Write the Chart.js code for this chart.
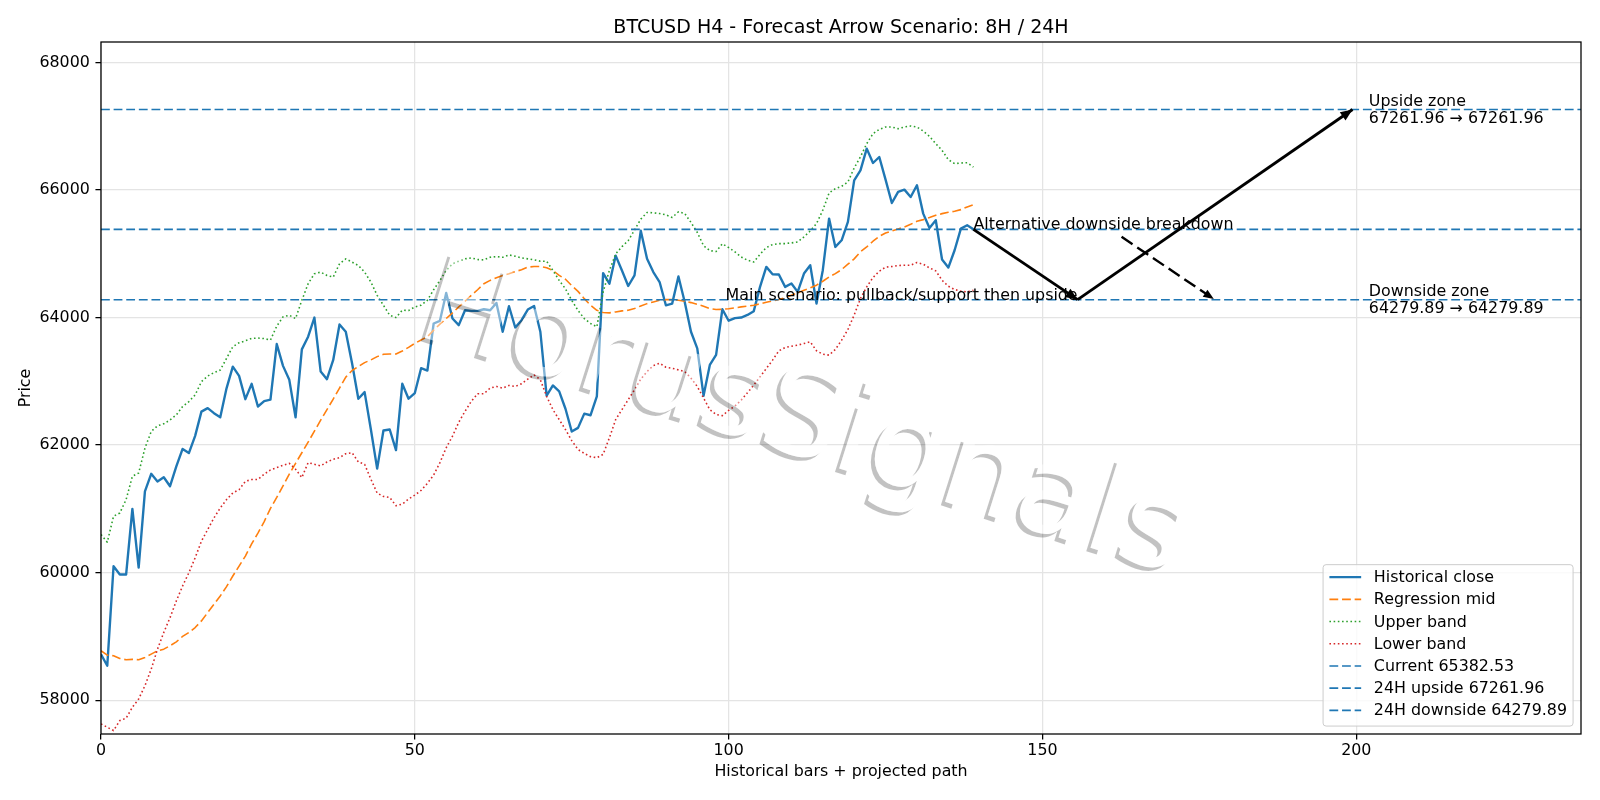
<!DOCTYPE html>
<html lang="en">
<head>
  <meta charset="utf-8">
  <title>BTCUSD H4 - Forecast Arrow Scenario</title>
  <script src="https://cdn.jsdelivr.net/npm/chart.js@4.4.1/dist/chart.umd.min.js"></script>
  <style>
    html, body { margin: 0; padding: 0; background: #fff; }
  </style>
</head>
<body>

<canvas id="mycanvas" width="1600" height="800"></canvas>

<script>
// historical H4 closes and regression channel (bar index = position in array)
const closeVals = [
  58720, 58540, 60100, 59970, 59970, 61000, 60080, 61275, 61550, 61430,
  61495, 61355, 61665, 61940, 61875, 62145, 62525, 62580, 62500, 62435,
  62890, 63230, 63085, 62720, 62960, 62605, 62690, 62712, 63584, 63242,
  63023, 62436, 63501, 63699, 64000, 63153, 63034, 63335, 63891, 63777,
  63283, 62727, 62831, 62244, 61631, 62229, 62244, 61922, 62961, 62727,
  62816, 63205, 63169, 63906, 63948, 64384, 63984, 63881, 64114, 64104,
  64104, 64130, 64114, 64229, 63777, 64177, 63844, 63958, 64125, 64182,
  63777, 62774, 62935, 62842, 62570, 62213, 62270, 62493, 62468, 62764,
  64696, 64530, 64971, 64738, 64494, 64660, 65361, 64920, 64712, 64556,
  64192, 64218, 64644, 64244, 63777, 63517, 62774, 63257, 63413, 64130,
  63950, 63990, 64000, 64040, 64100, 64480, 64794, 64679, 64674, 64480,
  64533, 64402, 64689, 64820, 64219, 64742, 65551, 65107, 65211, 65499,
  66151, 66308, 66648, 66423, 66517, 66162, 65796, 65969, 66005, 65890,
  66073, 65629, 65405, 65525, 64909, 64783, 65055, 65394, 65446, 65382.53
];
const midVals = [
  58775, 58707, 58696, 58655, 58634, 58640, 58634, 58670, 58722, 58775,
  58800, 58853, 58915, 59000, 59061, 59139, 59243, 59374, 59504, 59634,
  59780, 59947, 60103, 60259, 60450, 60620, 60800, 61008, 61179, 61361,
  61543, 61714, 61880, 62047, 62218, 62390, 62556, 62722, 62893, 63065,
  63169, 63231, 63293, 63335, 63387, 63423, 63429, 63429, 63475, 63532,
  63595, 63647, 63699, 63803, 63896, 63984, 64073, 64166, 64255, 64348,
  64436, 64530, 64582, 64623, 64660, 64686, 64722, 64748, 64790, 64800,
  64800, 64779, 64738, 64660, 64600, 64500, 64410, 64296, 64192, 64114,
  64078, 64073, 64088, 64104, 64114, 64140, 64182, 64218, 64244, 64270,
  64280, 64280, 64270, 64255, 64234, 64208, 64177, 64140, 64125, 64128,
  64138, 64151, 64167, 64178, 64193, 64214, 64240, 64261, 64282, 64313,
  64350, 64386, 64428, 64465, 64507, 64569, 64637, 64689, 64752, 64836,
  64920, 65030, 65107, 65196, 65274, 65326, 65358, 65389, 65420, 65462,
  65509, 65535, 65567, 65603, 65629, 65650, 65666, 65692, 65734, 65770
];
const upperVals = [
  60598, 60478, 60884, 60936, 61145, 61510, 61562, 61952, 62213, 62302,
  62333, 62395, 62473, 62604, 62682, 62786, 62994, 63083, 63135, 63177,
  63359, 63542, 63604, 63635, 63672, 63678, 63670, 63647, 63865, 64010,
  64036, 63984, 64270, 64530, 64686, 64712, 64660, 64634, 64842, 64920,
  64868, 64816, 64712, 64556, 64348, 64192, 64036, 64000, 64114, 64110,
  64166, 64192, 64270, 64436, 64582, 64738, 64842, 64883, 64920, 64935,
  64909, 64904, 64945, 64956, 64945, 64982, 64961, 64935, 64920, 64904,
  64883, 64883, 64738, 64582, 64450, 64270, 64110, 63984, 63906, 63854,
  64400, 64738, 64997, 65112, 65205, 65371, 65543, 65647, 65642, 65631,
  65610, 65569, 65657, 65631, 65491, 65335, 65127, 65049, 65034, 65156,
  65097, 65029, 64950, 64898, 64872, 64992, 65097, 65144, 65159, 65159,
  65170, 65185, 65264, 65358, 65473, 65682, 65953, 66021, 66057, 66125,
  66345, 66520, 66726, 66882, 66950, 66987, 66987, 66961, 66987, 67003,
  66987, 66924, 66841, 66726, 66621, 66475, 66413, 66423, 66428, 66360
];
const lowerVals = [
  57628, 57576, 57524, 57680, 57717, 57889, 58019, 58227, 58488, 58800,
  59061, 59295, 59556, 59790, 59999, 60233, 60493, 60676, 60858, 61014,
  61145, 61249, 61301, 61431, 61460, 61460, 61543, 61610, 61647, 61683,
  61714, 61621, 61491, 61725, 61699, 61673, 61735, 61777, 61803, 61865,
  61880, 61735, 61699, 61465, 61247, 61195, 61179, 61049, 61075, 61153,
  61216, 61290, 61400, 61530, 61725, 61958, 62140, 62358, 62530, 62686,
  62805, 62805, 62893, 62919, 62893, 62935, 62919, 62961, 63034, 63101,
  63023, 62764, 62556, 62400, 62244, 62070, 61930, 61870, 61818, 61803,
  61855, 62114, 62400, 62556, 62712, 62867, 63034, 63153, 63247, 63283,
  63221, 63205, 63179, 63153, 63049, 62919, 62738, 62556, 62478, 62462,
  62545, 62611, 62705, 62820, 62940, 63070, 63201, 63332, 63478, 63530,
  63551, 63567, 63593, 63619, 63478, 63426, 63410, 63499, 63645, 63812,
  64040, 64298, 64480, 64627, 64726, 64789, 64799, 64815, 64820, 64820,
  64862, 64836, 64778, 64731, 64585, 64491, 64439, 64413, 64402, 64428
];

// levels
const currentPrice = 65382.53;
const upsideTarget = 67261.96;
const downsideTarget = 64279.89;

// projected path (main: down to support then up, alt: breakdown)
const mainPathX = [139, 155.6, 199.4];
const mainPathY = [currentPrice, downsideTarget, upsideTarget];
const altPathX = [162.6, 177.3];
const altPathY = [65265, 64290];
const zoneLabelX = 202;

// axes
const xRange = [0, 235.8];
const yRange = [57470, 68320];
const xTicks = [0, 50, 100, 150, 200];
const yTicks = [58000, 60000, 62000, 64000, 66000, 68000];

const FONT = "'DejaVu Sans', sans-serif";
const PT = 1600 / 14 / 72;   // px per point
const DASH = [5.55 * PT, 2.4 * PT];
const DOT = [1 * PT, 1.65 * PT];

function pts(arr) {
  return arr.map(function (v, i) { return {x: i, y: v}; });
}
function hline(v) {
  return [{x: xRange[0], y: v}, {x: xRange[1], y: v}];
}
function seg(xs, ys, a, b) {
  return [{x: xs[a], y: ys[a]}, {x: xs[b], y: ys[b]}];
}

const datasets = [
  {label: 'Historical close', data: pts(closeVals), borderColor: '#1f77b4', borderWidth: 1.5 * PT, inLegend: true},
  {label: 'Regression mid', data: pts(midVals), borderColor: '#ff7f0e', borderWidth: 1 * PT, borderDash: DASH, inLegend: true},
  {label: 'Upper band', data: pts(upperVals), borderColor: '#2ca02c', borderWidth: 1 * PT, borderDash: DOT, inLegend: true},
  {label: 'Lower band', data: pts(lowerVals), borderColor: '#d62728', borderWidth: 1 * PT, borderDash: DOT, inLegend: true},
  {label: 'Current ' + currentPrice.toFixed(2), data: hline(currentPrice), borderColor: '#1f77b4', borderWidth: 1 * PT, borderDash: DASH, inLegend: true},
  {label: '24H upside ' + upsideTarget.toFixed(2), data: hline(upsideTarget), borderColor: '#1f77b4', borderWidth: 1 * PT, borderDash: DASH, inLegend: true},
  {label: '24H downside ' + downsideTarget.toFixed(2), data: hline(downsideTarget), borderColor: '#1f77b4', borderWidth: 1 * PT, borderDash: DASH, inLegend: true},
  {label: 'arrow1', data: seg(mainPathX, mainPathY, 0, 1), borderColor: '#000', borderWidth: 1.8 * PT, arrow: true},
  {label: 'arrow2', data: seg(mainPathX, mainPathY, 1, 2), borderColor: '#000', borderWidth: 1.8 * PT, arrow: true},
  {label: 'arrow3', data: seg(altPathX, altPathY, 0, 1), borderColor: '#000', borderWidth: 1.5 * PT, borderDash: [5.55 * 1.5 * PT, 2.4 * 1.5 * PT], arrow: true}
];
datasets.forEach(function (d, i) {
  d.pointRadius = 0;
  d.fill = false;
  d.tension = 0;
  d.borderJoinStyle = 'round';
  d.order = datasets.length - i;   // later ones on top, like matplotlib
});

function arrowHead(ctx, x0, y0, x1, y1, len, half) {
  var a = Math.atan2(y1 - y0, x1 - x0);
  var c = Math.cos(a), s = Math.sin(a);
  ctx.beginPath();
  ctx.moveTo(x1, y1);
  ctx.lineTo(x1 - len * c + half * s, y1 - len * s - half * c);
  ctx.lineTo(x1 - len * c - half * s, y1 - len * s + half * c);
  ctx.closePath();
  ctx.fill();
}

// watermark text set up on a given context
function wmText(c, fill, dx, dy) {
  c.save();
  c.translate(793, 454);
  c.rotate(17.5 * Math.PI / 180);
  c.font = '122px ' + FONT;
  c.textAlign = 'center';
  c.textBaseline = 'alphabetic';
  c.fillStyle = fill;
  c.fillText('HorusSignals', dx, dy);
  c.restore();
}

const extras = {
  id: 'extras',
  afterDatasetsDraw: function (chart) {
    var ctx = chart.ctx, xs = chart.scales.x, ys = chart.scales.y, ca = chart.chartArea;
    var px = function (v) { return xs.getPixelForValue(v); };
    var py = function (v) { return ys.getPixelForValue(v); };

    // watermark: grey drop shadow (only outside the letters) + translucent white letters
    var off = document.createElement('canvas');
    off.width = chart.width;
    off.height = chart.height;
    var oc = off.getContext('2d');
    wmText(oc, 'rgba(0,0,0,0.24)', -3, 4.5);
    oc.globalCompositeOperation = 'destination-out';
    wmText(oc, '#000', 0, 0);
    ctx.drawImage(off, 0, 0);
    wmText(ctx, 'rgba(255,255,255,0.45)', 0, 0);

    // arrow heads
    ctx.save();
    ctx.fillStyle = '#000';
    chart.data.datasets.forEach(function (d) {
      if (!d.arrow) return;
      var p0 = d.data[0], p1 = d.data[1];
      var big = !d.borderDash;
      arrowHead(ctx, px(p0.x), py(p0.y), px(p1.x), py(p1.y), big ? 12 : 10.5, big ? 5 : 4.2);
    });
    ctx.restore();

    // annotation texts
    ctx.save();
    ctx.font = (10 * PT) + 'px ' + FONT;
    ctx.fillStyle = '#000';
    ctx.textBaseline = 'alphabetic';
    ctx.textAlign = 'left';
    ctx.fillText('Alternative downside breakdown', px(mainPathX[0]), py(currentPrice));
    ctx.textAlign = 'right';
    ctx.fillText('Main scenario: pullback/support then upside', px(mainPathX[1]), py(downsideTarget));
    ctx.textAlign = 'left';
    ctx.fillText('Upside zone', px(zoneLabelX), py(upsideTarget) - 3);
    ctx.fillText(upsideTarget.toFixed(2) + ' \u2192 ' + upsideTarget.toFixed(2), px(zoneLabelX), py(upsideTarget) + 14);
    ctx.fillText('Downside zone', px(zoneLabelX), py(downsideTarget) - 3.5);
    ctx.fillText(downsideTarget.toFixed(2) + ' \u2192 ' + downsideTarget.toFixed(2), px(zoneLabelX), py(downsideTarget) + 13.5);
    ctx.restore();

    // frame
    ctx.save();
    ctx.strokeStyle = '#000';
    ctx.lineWidth = 0.8 * PT;
    ctx.strokeRect(ca.left, ca.top, ca.right - ca.left, ca.bottom - ca.top);
    ctx.restore();
  },
  afterDraw: function (chart) {
    var ctx = chart.ctx, ca = chart.chartArea;

    // title
    ctx.save();
    ctx.font = (12 * PT) + 'px ' + FONT;
    ctx.fillStyle = '#000';
    ctx.textAlign = 'center';
    ctx.textBaseline = 'alphabetic';
    ctx.fillText('BTCUSD H4 - Forecast Arrow Scenario: 8H / 24H', (ca.left + ca.right) / 2, ca.top - 9.5);
    ctx.restore();

    // legend, lower right inside the axes
    var items = chart.data.datasets.filter(function (d) { return d.inLegend; });
    var fs = 10 * PT;
    var boxR = ca.right - 0.5 * fs, boxB = ca.bottom - 0.5 * fs;
    var boxL = boxR - 250, rowH = 22.2;
    var boxT = boxB - items.length * rowH - 6;
    ctx.save();
    ctx.beginPath();
    ctx.roundRect(boxL, boxT, boxR - boxL, boxB - boxT, 3);
    ctx.fillStyle = 'rgba(255,255,255,0.8)';
    ctx.fill();
    ctx.strokeStyle = '#cccccc';
    ctx.lineWidth = 1;
    ctx.stroke();
    ctx.font = fs + 'px ' + FONT;
    ctx.textBaseline = 'middle';
    ctx.textAlign = 'left';
    items.forEach(function (d, i) {
      var y = boxT + 12.5 + i * rowH;
      ctx.beginPath();
      ctx.setLineDash(d.borderDash || []);
      ctx.strokeStyle = d.borderColor;
      ctx.lineWidth = d.borderWidth;
      ctx.moveTo(boxL + 0.4 * fs, y);
      ctx.lineTo(boxL + 2.4 * fs, y);
      ctx.stroke();
      ctx.setLineDash([]);
      ctx.fillStyle = '#000';
      ctx.fillText(d.label, boxL + 3.2 * fs, y + 1);
    });
    ctx.restore();
  }
};

var ctx_live = document.getElementById('mycanvas');
var myChart = new Chart(ctx_live, {
  type: 'line',
  data: {datasets: datasets},
  options: {
    responsive: false,
    animation: false,
    events: [],
    layout: {padding: {left: 0, right: 19, top: 42, bottom: 0}},
    scales: {
      x: {
        type: 'linear',
        min: xRange[0],
        max: xRange[1],
        afterFit: function (s) { s.height = 66; },
        afterBuildTicks: function (s) { s.ticks = xTicks.map(function (v) { return {value: v}; }); },
        grid: {color: '#e4e4e4', lineWidth: 0.8 * PT, tickColor: '#000', tickLength: 3.5 * PT, tickWidth: 0.8 * PT},
        border: {display: false},
        ticks: {color: '#000', padding: 2, maxRotation: 0, font: {family: FONT, size: 10 * PT},
                callback: function (v) { return String(v); }},
        title: {display: true, text: 'Historical bars + projected path', color: '#000',
                font: {family: FONT, size: 10 * PT}, padding: {top: 0, bottom: 19}}
      },
      y: {
        min: yRange[0],
        max: yRange[1],
        afterFit: function (s) { s.width = 101; },
        afterBuildTicks: function (s) { s.ticks = yTicks.map(function (v) { return {value: v}; }); },
        grid: {color: '#e4e4e4', lineWidth: 0.8 * PT, tickColor: '#000', tickLength: 3.5 * PT, tickWidth: 0.8 * PT},
        border: {display: false},
        ticks: {color: '#000', padding: 3.5 * PT, font: {family: FONT, size: 10 * PT},
                callback: function (v) { return String(v); }},
        title: {display: true, text: 'Price', color: '#000',
                font: {family: FONT, size: 10 * PT}, padding: {top: 16, bottom: 0}}
      }
    },
    plugins: {
      legend: {display: false},
      tooltip: {enabled: false}
    }
  },
  plugins: [extras]
});
</script>

</body>
</html>
